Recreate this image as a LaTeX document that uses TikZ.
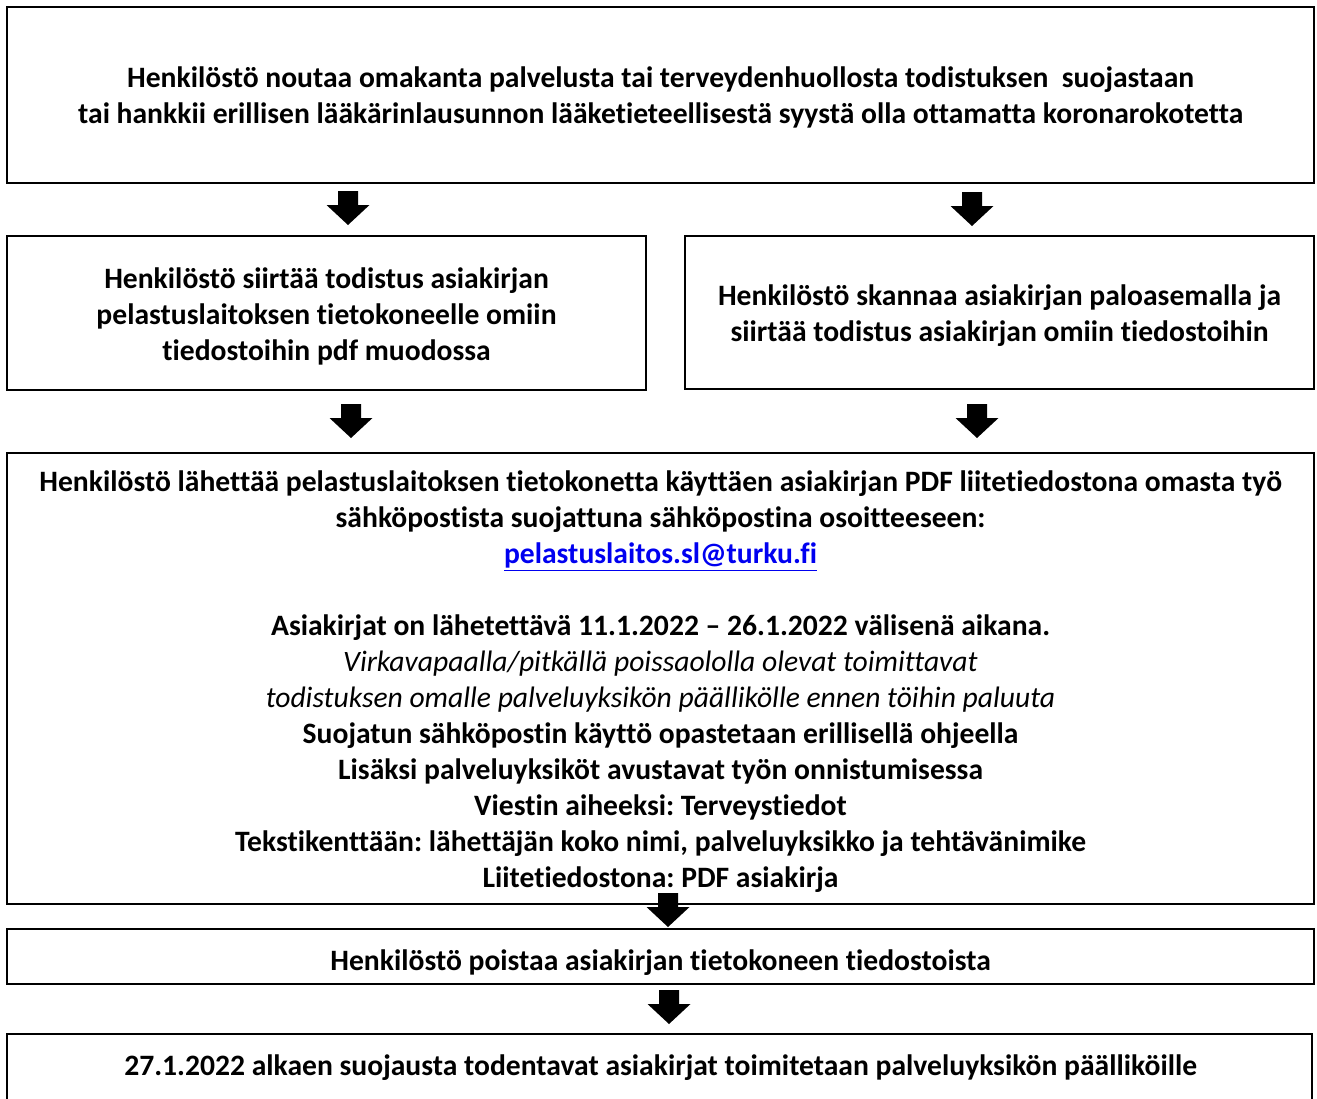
\documentclass[tikz,border=0pt]{standalone}
\usepackage{fontspec}
\setmainfont{Carlito}[RawFeature=-liga]
\definecolor{linkblue}{RGB}{0,0,240}
\frenchspacing
\begin{document}
\begin{tikzpicture}[x=0.75pt,y=-0.75pt,
  box/.style={draw=black,line width=1.5pt,rectangle,inner sep=0pt,outer sep=0pt},
  txt/.style={align=center,inner sep=0pt,font=\fontsize{22.2pt}{27pt}\selectfont\bfseries},
  downarrow/.pic={\fill[black] (-10,0) -- (10,0) -- (10,14) -- (21.5,14) -- (0,34) -- (-21.5,14) -- (-10,14) -- cycle;}]
\useasboundingbox (0,0) rectangle (1317,1099);
% boxes
\node[box,minimum width=980.25pt,minimum height=132pt] (b1) at (660.5,95) {};
\node[box,minimum width=479.25pt,minimum height=115.5pt] (b2l) at (326.5,313) {};
\node[box,minimum width=471.75pt,minimum height=114.75pt] (b2r) at (999.5,312.5) {};
\node[box,minimum width=980.25pt,minimum height=338.25pt] (b3) at (660.5,678.5) {};
\node[box,minimum width=980.25pt,minimum height=41.25pt] (b4) at (660.5,956.5) {};
\node[box,minimum width=978.75pt,minimum height=75pt] (b5) at (659.5,1084) {};
% texts
\node[txt] (t1) at (660.5,97) {Henkilöstö noutaa omakanta palvelusta tai terveydenhuollosta todistuksen\ \ suojastaan\\tai hankkii erillisen lääkärinlausunnon lääketieteellisestä syystä olla ottamatta koronarokotetta};
\node[txt] (t2l) at (326.5,316) {Henkilöstö siirtää todistus asiakirjan\\pelastuslaitoksen tietokoneelle omiin\\tiedostoihin pdf muodossa};
\node[txt] (t2r) at (999.5,316) {Henkilöstö skannaa asiakirjan paloasemalla ja\\siirtää todistus asiakirjan omiin tiedostoihin};
\node[txt] (t3) at (660.5,682) {Henkilöstö lähettää pelastuslaitoksen tietokonetta käyttäen asiakirjan PDF liitetiedostona omasta työ\\sähköpostista suojattuna sähköpostina osoitteeseen:\\\textcolor{linkblue}{\underline{pelastuslaitos.sl@turku.fi}}\\[27pt]
Asiakirjat on lähetettävä 11.1.2022 – 26.1.2022 välisenä aikana.\\
{\mdseries\itshape Virkavapaalla/pitkällä poissaololla olevat toimittavat}\\
{\mdseries\itshape todistuksen omalle palveluyksikön päällikölle ennen töihin paluuta}\\
Suojatun sähköpostin käyttö opastetaan erillisellä ohjeella\\
Lisäksi palveluyksiköt avustavat työn onnistumisessa\\
Viestin aiheeksi: Terveystiedot\\
Tekstikenttään: lähettäjän koko nimi, palveluyksikko ja tehtävänimike\\
Liitetiedostona: PDF asiakirja};
\node[txt] (t4) at (660.5,963) {Henkilöstö poistaa asiakirjan tietokoneen tiedostoista};
\node[txt] (t5) at (660.5,1068) {27.1.2022 alkaen suojausta todentavat asiakirjat toimitetaan palveluyksikön päälliköille};
% block arrows
\pic at (348,191) {downarrow};
\pic at (972,192) {downarrow};
\pic at (351,404) {downarrow};
\pic at (977,404) {downarrow};
\pic at (668,893) {downarrow};
\pic at (669,990) {downarrow};
\end{tikzpicture}
\end{document}
